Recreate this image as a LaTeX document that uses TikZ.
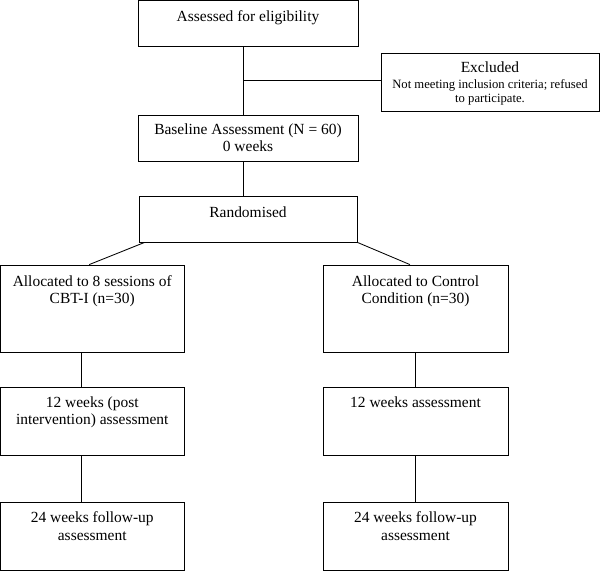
\documentclass[tikz,border=0pt]{standalone}
\usepackage{fontspec}
\setmainfont{Liberation Serif}
\usetikzlibrary{positioning,calc}

\tikzset{
  box/.style={draw, line width=0.6pt, inner sep=0pt},
  txt/.style={inner sep=0pt, align=center, font=\fontsize{11}{12.2}\selectfont},
  small/.style={font=\fontsize{9}{10}\selectfont},
}

\begin{document}
\begin{tikzpicture}[x=0.025cm, y=-0.025cm, line width=0.6pt]
  \useasboundingbox (0,0) rectangle (600,571);

  % boxes
  \node[box, minimum width=5.5cm, minimum height=1.1375cm] (elig) at (248,23.25) {};
  \node[box, minimum width=5.45cm, minimum height=1.45cm] (excl) at (490,82) {};
  \node[box, minimum width=5.5cm, minimum height=1.15cm] (base) at (248,138) {};
  \node[box, minimum width=5.45cm, minimum height=1.15cm] (rand) at (248,219) {};
  \node[box, minimum width=4.5875cm, minimum height=2.175cm] (cbt1) at (92.25,308.5) {};
  \node[box, minimum width=4.625cm, minimum height=2.175cm] (ctl1) at (415.5,308.5) {};
  \node[box, minimum width=4.5875cm, minimum height=1.7cm] (cbt2) at (92.25,421) {};
  \node[box, minimum width=4.625cm, minimum height=1.7cm] (ctl2) at (415.5,421) {};
  \node[box, minimum width=4.5875cm, minimum height=1.7cm] (cbt3) at (92.25,536) {};
  \node[box, minimum width=4.625cm, minimum height=1.7cm] (ctl3) at (415.5,536) {};

  % texts
  \node[txt, below=0.25cm of elig.north] (elig-t) {Assessed for eligibility};
  \node[txt, below=0.22cm of excl.north] (excl-t) {Excluded\\[-1pt]
    {\fontsize{9}{10}\selectfont Not meeting inclusion criteria; refused}\\[-2pt]
    {\fontsize{9}{10}\selectfont to participate.}};
  \node[txt, below=0.22cm of base.north] (base-t) {Baseline Assessment (N = 60)\\0 weeks};
  \node[txt, below=0.27cm of rand.north] (rand-t) {Randomised};
  \node[txt, below=0.27cm of cbt1.north] (cbt1-t) {Allocated to 8 sessions of\\CBT-I (n=30)};
  \node[txt, below=0.27cm of ctl1.north] (ctl1-t) {Allocated to Control\\Condition (n=30)};
  \node[txt, below=0.25cm of cbt2.north] (cbt2-t) {12 weeks (post\\intervention) assessment};
  \node[txt, below=0.25cm of ctl2.north] (ctl2-t) {12 weeks assessment};
  \node[txt, below=0.25cm of cbt3.north] (cbt3-t) {24 weeks follow-up\\assessment};
  \node[txt, below=0.25cm of ctl3.north] (ctl3-t) {24 weeks follow-up\\assessment};

  % connectors
  \draw ([xshift=-0.125cm]elig.south) -- ([xshift=-0.125cm]base.north);
  \coordinate (split) at ($([xshift=-0.125cm]elig.south)!0.5!([xshift=-0.125cm]base.north)$);
  \draw (split) -- (split -| excl.west);
  \draw ([xshift=-0.125cm]base.south) -- ([xshift=-0.125cm]rand.north);
  \draw ([xshift=0.15cm]rand.south west) -- ([xshift=-0.075cm]cbt1.north);
  \draw (rand.south east) -- ([xshift=-0.14cm]ctl1.north);
  \draw ([xshift=-0.28cm]cbt1.south) -- ([xshift=-0.28cm]cbt2.north);
  \draw ([xshift=-0.28cm]cbt2.south) -- ([xshift=-0.28cm]cbt3.north);
  \draw (ctl1.south) -- (ctl2.north);
  \draw (ctl2.south) -- (ctl3.north);
\end{tikzpicture}
\end{document}
